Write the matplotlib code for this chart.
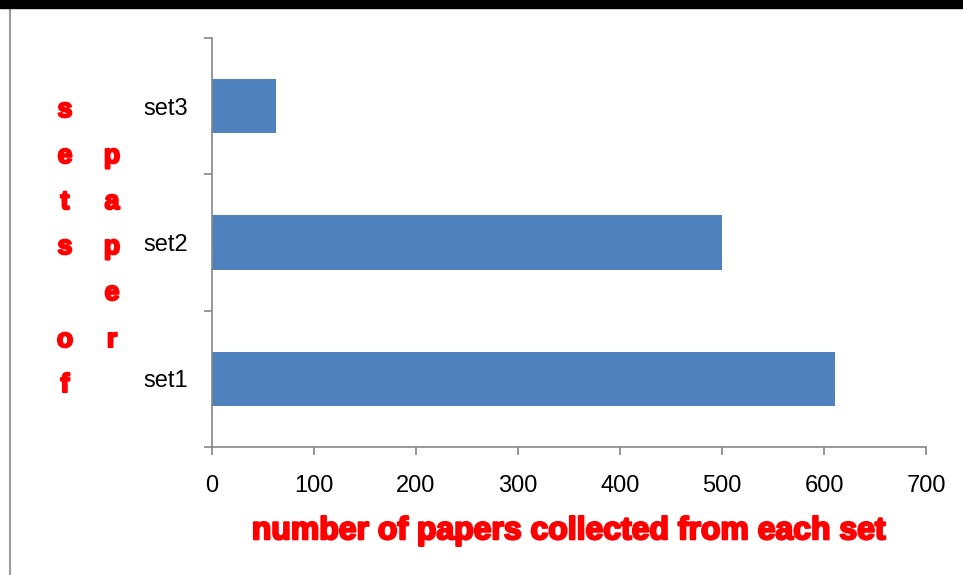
import matplotlib.pyplot as plt
import matplotlib.patheffects as pe
from matplotlib.patches import Rectangle
from matplotlib.lines import Line2D

categories = ["set1", "set2", "set3"]
papers = [611, 500, 63]
xticks = [0, 100, 200, 300, 400, 500, 600, 700]

ylabel_col1 = ["s", "e", "t", "s", "", "o", "f"]
ylabel_col2 = ["", "p", "a", "p", "e", "r", ""]

plt.rcParams['font.family'] = ['Liberation Sans', 'DejaVu Sans']

fig = plt.figure(figsize=(9.63, 5.75), dpi=100)
ax = fig.add_axes([212 / 963, 1 - 447 / 575, 714 / 963, 409 / 575])

pos = range(len(categories))
ax.barh(pos, papers, height=0.4, color="#4F81BD")

ax.set_xlim(0, 700)
ax.set_ylim(-0.5, len(categories) - 0.5)
ax.set_xticks(xticks)
ax.set_xticklabels([str(t) for t in xticks], fontsize=17)
ax.set_yticks(list(pos))
ax.set_yticklabels(categories, fontsize=17)
ax.set_yticks([-0.5, 0.5, 1.5, 2.5], minor=True)

ax.tick_params(axis='y', which='major', length=0, pad=17)
ax.tick_params(axis='y', which='minor', length=6, width=1.2, color="#868686", direction='out')
ax.tick_params(axis='x', length=6, width=1.2, color="#868686", direction='out', pad=14)

for side in ["top", "right"]:
    ax.spines[side].set_visible(False)
for side in ["left", "bottom"]:
    ax.spines[side].set_color("#868686")
    ax.spines[side].set_linewidth(1.2)

heavy = [pe.withStroke(linewidth=1.6, foreground="red")]
xl = ax.set_xlabel("number of papers collected from each set", fontsize=23,
                   fontweight='bold', color="red", labelpad=14)
xl.set_path_effects(heavy)

# vertical two-column y label
row_y = [110, 156, 202, 247, 293, 340, 385]
for ch1, ch2, y in zip(ylabel_col1, ylabel_col2, row_y):
    for ch, x in [(ch1, 65), (ch2, 112)]:
        if ch:
            fig.text(x / 963, 1 - y / 575, ch, color="red", fontsize=19,
                     fontweight='bold', ha='center', va='center',
                     path_effects=heavy)

# page frame remnants
fig.patches.append(Rectangle((0, 1 - 8 / 575), 1, 8 / 575, transform=fig.transFigure,
                             color="black", zorder=5))
fig.lines.append(Line2D([9.5 / 963, 9.5 / 963], [0, 1 - 8 / 575], transform=fig.transFigure,
                        color="#9a9a9a", linewidth=1.5))

fig.savefig("out.png", dpi=100)
